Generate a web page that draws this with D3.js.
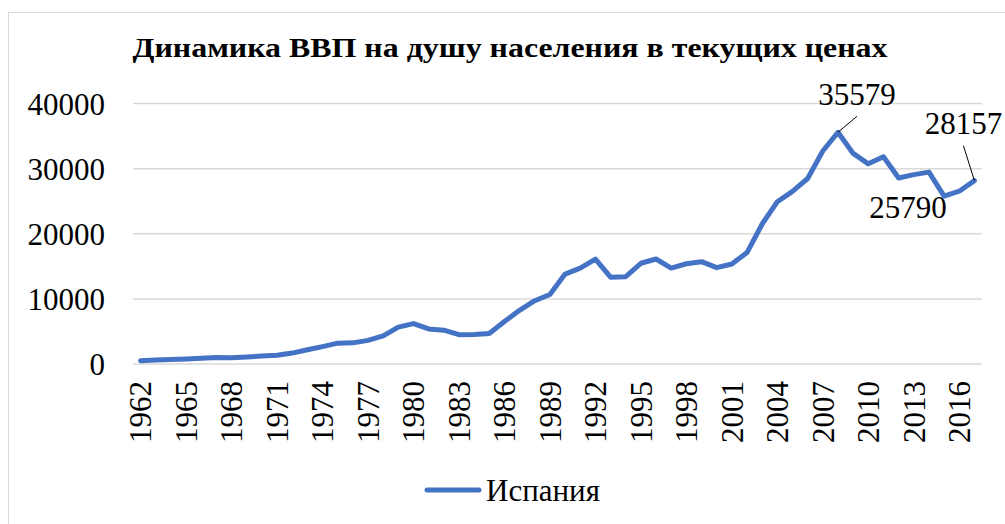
<!DOCTYPE html>
<html>
<head>
<meta charset="utf-8">
<script src="https://cdn.jsdelivr.net/npm/d3@7"></script>
</head>
<body style="margin:0">
<script>
// data: GDP per capita, Spain
let years = d3.range(1962, 2018);
let gdp = [515, 604, 675, 774, 889, 990, 959, 1075, 1212, 1358,
    1676, 2193, 2674, 3200, 3245, 3628, 4311, 5661, 6209, 5383,
    5194, 4499, 4519, 4697, 6513, 8240, 9716, 10681, 13805, 14725,
    16114, 13329, 13415, 15470, 16125, 14736, 15394, 15715, 14788, 15355,
    17108, 21497, 24920, 26511, 28482, 32709, 35579, 32334, 30737, 31832,
    28562, 29077, 29461, 25790, 26537, 28157];
let yTicks = [0, 10000, 20000, 30000, 40000];
let xTickYears = d3.range(1962, 2018, 3);
let seriesName = "Испания";
let labelled = [2008, 2015, 2017];

let W = 1005, H = 524;
let plotLeft = 133, plotRight = 982, plotTop = 103.5, plotBottom = 364;
let FONT = "'Liberation Serif'";

let svg = d3.select("body")
    .append("svg")
    .attr("width", W)
    .attr("height", H)
    .attr("font-family", "Liberation Serif");

// chart border
svg.append("rect")
    .attr("x", 8.5)
    .attr("y", 12.5)
    .attr("width", 1000)
    .attr("height", 530)
    .attr("fill", "white")
    .style("stroke", "#d9d9d9");

let x = d3.scaleBand()
    .domain(years)
    .range([plotLeft, plotRight]);

let y = d3.scaleLinear()
    .domain([0, 40000])
    .range([plotBottom, plotTop]);

// gridlines
svg.append("g")
    .selectAll("line")
    .data(yTicks)
    .join("line")
    .attr("x1", plotLeft)
    .attr("x2", plotRight)
    .attr("y1", d => y(d))
    .attr("y2", d => y(d))
    .style("stroke", "#d9d9d9")
    .style("stroke-width", 1.5);

// y axis labels
let yAxis = svg.append("g")
    .attr("transform", "translate(" + (plotLeft - 28) + ",0)")
    .call(d3.axisLeft(y).tickValues(yTicks).tickSize(0).tickPadding(0).tickFormat(d3.format("d")))
    .attr("font-family", "Liberation Serif")
    .attr("font-size", 31);
yAxis.select(".domain").remove();
yAxis.selectAll("text")
    .style("font-family", FONT)
    .style("font-size", "31px")
    .style("fill", "#000")
    .attr("dy", "0.35em");

// x axis labels (rotated)
let xAxis = svg.append("g")
    .attr("transform", "translate(0," + (plotBottom + 17) + ")")
    .call(d3.axisBottom(x).tickValues(xTickYears).tickSize(0).tickPadding(0))
    .attr("font-family", "Liberation Serif")
    .attr("font-size", 31);
xAxis.select(".domain").remove();
xAxis.selectAll("text")
    .style("font-family", FONT)
    .style("font-size", "31px")
    .style("fill", "#000")
    .attr("transform", "rotate(-90)")
    .attr("text-anchor", "end")
    .attr("x", 0)
    .attr("y", 0)
    .attr("dy", "0.35em");

// line
let pts = years.map((yr, i) => [x(yr) + x.bandwidth() / 2, y(gdp[i])]);
svg.append("path")
    .attr("d", d3.line()(pts))
    .attr("fill", "none")
    .style("stroke", "#4472c4")
    .style("stroke-width", 5)
    .style("stroke-linejoin", "round")
    .style("stroke-linecap", "round");

// data labels with leader lines
let labelPos = {
    2008: { dx: 19, dy: -27, lx: 19, ly: -16 },
    2015: { dx: -36, dy: 22, lx: null },
    2017: { dx: -11, dy: -47, lx: -11, ly: -35 }
};
labelled.forEach(yr => {
    let i = years.indexOf(yr);
    let px = x(yr) + x.bandwidth() / 2, py = y(gdp[i]);
    let p = labelPos[yr];
    if (p.lx !== null) {
        svg.append("line")
            .attr("x1", px)
            .attr("y1", py)
            .attr("x2", px + p.lx)
            .attr("y2", py + p.ly)
            .style("stroke", "black")
            .style("stroke-width", 1);
    }
    svg.append("text")
        .attr("x", px + p.dx)
        .attr("y", py + p.dy)
        .attr("text-anchor", "middle")
        .style("font-family", FONT)
        .style("font-size", "31px")
        .text(gdp[i]);
});

// title
svg.append("text")
    .attr("x", 510)
    .attr("y", 57)
    .attr("text-anchor", "middle")
    .attr("textLength", 755)
    .attr("lengthAdjust", "spacingAndGlyphs")
    .style("font-family", FONT)
    .style("font-size", "27px")
    .style("font-weight", "bold")
    .text("Динамика ВВП на душу населения в текущих ценах");

// legend
svg.append("line")
    .attr("x1", 427)
    .attr("x2", 479)
    .attr("y1", 490)
    .attr("y2", 490)
    .style("stroke", "#4472c4")
    .style("stroke-width", 5)
    .style("stroke-linecap", "round");
svg.append("text")
    .attr("x", 486)
    .attr("y", 501)
    .style("font-family", FONT)
    .style("font-size", "31px")
    .text(seriesName);
</script>
</body>
</html>
